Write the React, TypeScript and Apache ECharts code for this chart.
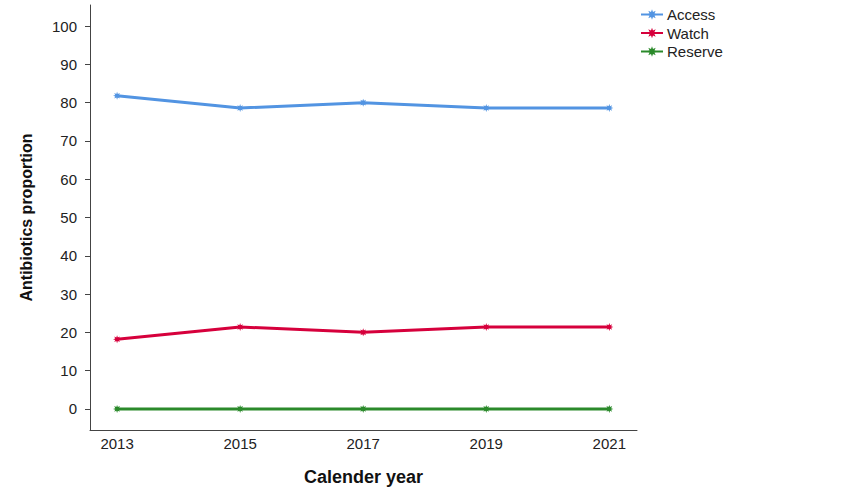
import React, { useEffect, useRef } from "react";
import * as echarts from "echarts";

const years = [2013, 2015, 2017, 2019, 2021];
const accessValues = [81.8, 78.6, 80.0, 78.6, 78.6];
const watchValues = [18.2, 21.4, 20.0, 21.4, 21.4];
const reserveValues = [0, 0, 0, 0, 0];
const yTicks = [0, 10, 20, 30, 40, 50, 60, 70, 80, 90, 100];

function starPath(points: number, outer: number, inner: number): string {
  const parts: string[] = [];
  for (let i = 0; i < points * 2; i++) {
    const r = i % 2 === 0 ? outer : inner;
    const a = (Math.PI * i) / points - Math.PI / 2;
    const x = (outer + r * Math.cos(a)).toFixed(2);
    const y = (outer + r * Math.sin(a)).toFixed(2);
    parts.push((i === 0 ? "M" : "L") + x + " " + y);
  }
  return "path://" + parts.join(" ") + " Z";
}

const STAR = starPath(8, 10, 5);

export default function App() {
  const ref = useRef<HTMLDivElement>(null);
  useEffect(() => {
    if (!ref.current) return;
    const chart = echarts.init(ref.current, undefined, { renderer: "svg" });
    const mk = (name: string, vals: number[], color: string) => ({
      name,
      type: "line",
      data: years.map((y, i) => [y, vals[i]]),
      symbol: STAR,
      symbolSize: 8,
      showSymbol: true,
      lineStyle: { color, width: 3 },
      itemStyle: { color },
      emphasis: { disabled: true },
    });
    chart.setOption({
      animation: false,
      textStyle: { fontFamily: "Liberation Sans, Arial, sans-serif" },
      grid: { left: 90, right: 214, top: 5, bottom: 71 },
      legend: {
        orient: "vertical",
        left: 635,
        top: 2,
        itemWidth: 22,
        itemHeight: 13,
        itemGap: 3.5,
        textStyle: { fontSize: 15, color: "#222", padding: [0, 0, 0, -1] },
        data: ["Access", "Watch", "Reserve"],
      },
      xAxis: {
        type: "value",
        min: 2012.56,
        max: 2021.45,
        name: "Calender year",
        nameLocation: "middle",
        nameGap: 38,
        nameTextStyle: { fontSize: 18, fontWeight: "bold", color: "#111" },
        axisLine: { show: true, onZero: false, lineStyle: { color: "#444", width: 1 } },
        axisTick: { show: false },
        splitLine: { show: false },
        axisLabel: {
          customValues: years,
          formatter: (v: number) => String(Math.round(v)),
          fontSize: 15,
          color: "#222",
          margin: 6,
        },
      },
      yAxis: {
        type: "value",
        min: -5.5,
        max: 105.5,
        name: "Antibiotics proportion",
        nameLocation: "middle",
        nameGap: 56,
        nameTextStyle: { fontSize: 16, fontWeight: "bold", color: "#111" },
        axisLine: { show: true, onZero: false, lineStyle: { color: "#444", width: 1 } },
        axisTick: {
          show: true,
          customValues: yTicks,
          length: 5,
          lineStyle: { color: "#444" },
        },
        splitLine: { show: false },
        axisLabel: {
          customValues: yTicks,
          fontSize: 15,
          color: "#222",
          margin: 13,
        },
      },
      series: [
        mk("Access", accessValues, "#5294e2"),
        mk("Watch", watchValues, "#d6003c"),
        mk("Reserve", reserveValues, "#2b8a2b"),
      ],
    });
    return () => chart.dispose();
  }, []);
  return <div ref={ref} style={{ width: 851, height: 501, position: "absolute", left: 0, top: 0 }} />;
}
